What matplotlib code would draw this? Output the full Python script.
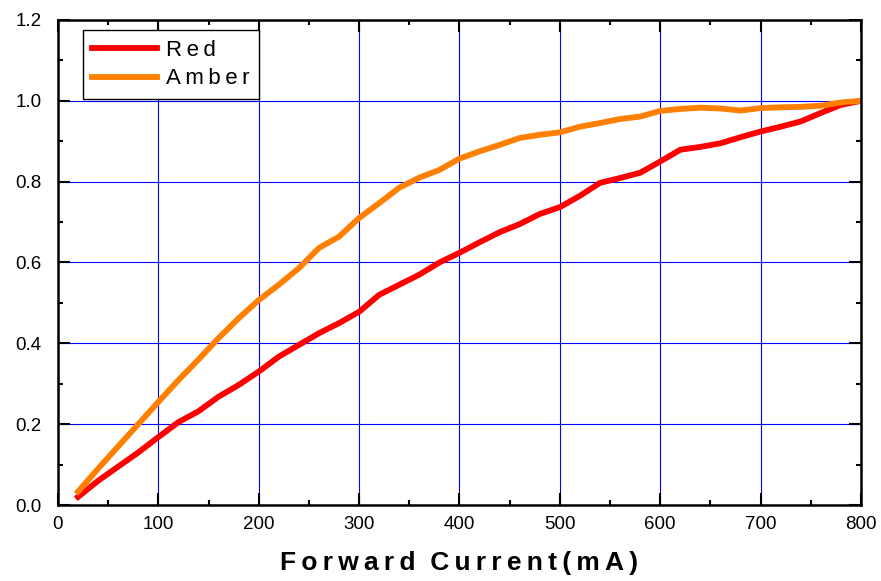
import numpy as np
import matplotlib.pyplot as plt
from matplotlib.ticker import MultipleLocator, FuncFormatter

plt.rcParams['font.family'] = ['Liberation Sans', 'DejaVu Sans']

current = [20, 40, 60, 80, 100, 120, 140, 160, 180, 200,
           220, 240, 260, 280, 300, 320, 340, 360, 380, 400,
           420, 440, 460, 480, 500, 520, 540, 560, 580, 600,
           620, 640, 660, 680, 700, 720, 740, 760, 780, 800]
red = [0.02, 0.06, 0.095, 0.13, 0.168, 0.205, 0.232, 0.268, 0.297, 0.33,
       0.367, 0.396, 0.425, 0.45, 0.478, 0.52, 0.545, 0.57, 0.60, 0.624,
       0.65, 0.675, 0.695, 0.72, 0.737, 0.765, 0.797, 0.809, 0.822, 0.85,
       0.879, 0.886, 0.895, 0.91, 0.924, 0.936, 0.949, 0.97, 0.99, 1.0]
amber = [0.033, 0.09, 0.145, 0.2, 0.255, 0.309, 0.36, 0.413, 0.462, 0.507,
         0.545, 0.586, 0.636, 0.664, 0.71, 0.747, 0.785, 0.81, 0.829, 0.857,
         0.875, 0.891, 0.908, 0.916, 0.922, 0.936, 0.945, 0.955, 0.961, 0.975,
         0.98, 0.983, 0.981, 0.976, 0.982, 0.984, 0.985, 0.988, 0.996, 1.0]


def spaced(s, sp='\u2009'):
    # mimic the wide letter spacing of the original
    return sp.join(s)


fig = plt.figure(figsize=(8.81, 5.81), dpi=100)
ax = fig.add_axes([0.0658, 0.1308, 0.9115, 0.8348])

ax.plot(current, red, color='#ff0000', lw=4.2, label=spaced('Red'))
ax.plot(current, amber, color='#ff8000', lw=4.2, label=spaced('Amber'))

ax.set_xlim(0, 800)
ax.set_ylim(0, 1.2)
ax.xaxis.set_major_locator(MultipleLocator(100))
ax.xaxis.set_minor_locator(MultipleLocator(50))
ax.yaxis.set_major_locator(MultipleLocator(0.2))
ax.yaxis.set_minor_locator(MultipleLocator(0.1))
ax.yaxis.set_major_formatter(FuncFormatter(lambda v, p: '%.1f' % v))
ax.grid(True, which='major', color='#0000ff', lw=0.8)
ax.tick_params(which='both', direction='in', top=True, right=True, width=1.5)
ax.tick_params(which='major', length=8.5, labelsize=13.5)
ax.tick_params(which='minor', length=3.6)
ax.tick_params(axis='x', which='major', pad=8)
ax.tick_params(axis='y', which='major', pad=12)
for s in ax.spines.values():
    s.set_linewidth(1.8)

ax.set_xlabel(spaced('Forward') + '  ' + spaced('Current(mA)'), fontsize=19,
              fontweight='bold', labelpad=13)

leg = ax.legend(loc='upper left', bbox_to_anchor=(0.031, 0.979), fontsize=16,
                handlelength=2.93, fancybox=False, framealpha=1, borderpad=0.42,
                labelspacing=0.35, handletextpad=0.4, borderaxespad=0)
leg.get_frame().set_edgecolor('black')
leg.get_frame().set_linewidth(1)

plt.savefig('out.png')
